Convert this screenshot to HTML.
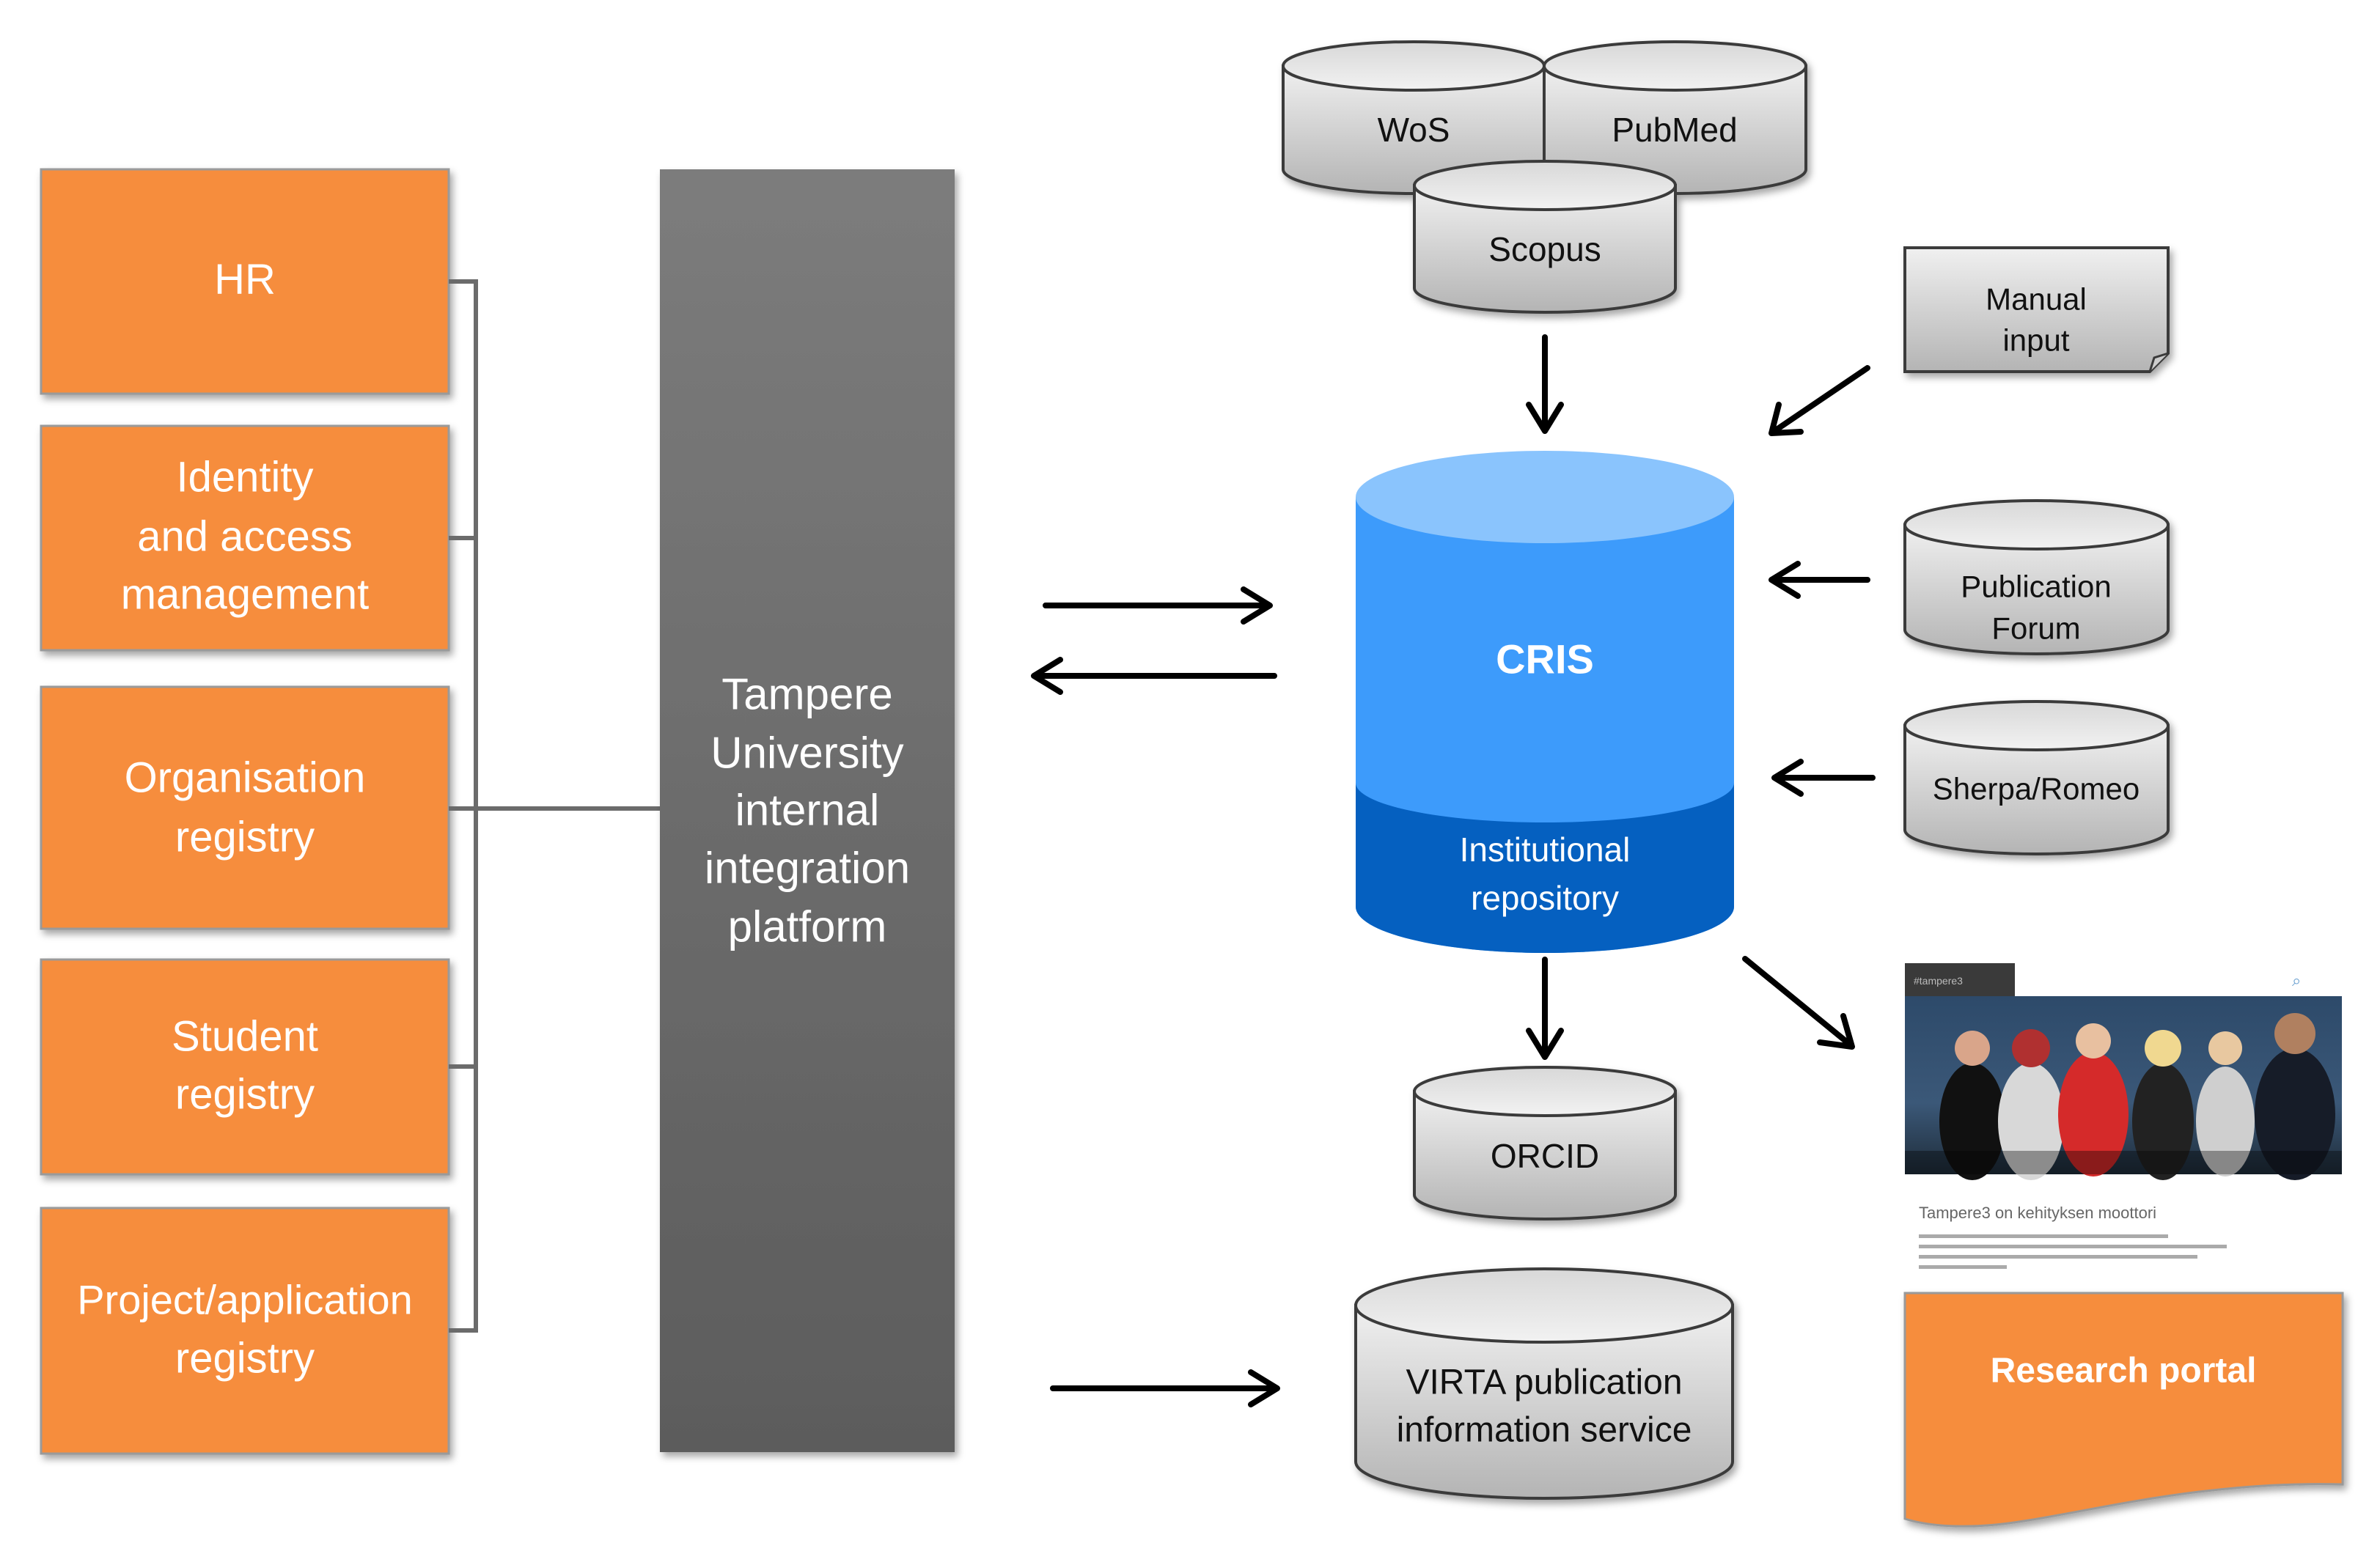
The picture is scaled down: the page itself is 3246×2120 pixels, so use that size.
<!DOCTYPE html>
<html><head><meta charset="utf-8"><style>
html,body{margin:0;padding:0;background:#fff;}
svg{display:block;}
text{font-family:"Liberation Sans",sans-serif;}
</style></head><body>
<svg width="3246" height="2120" viewBox="0 0 3246 2120" xmlns="http://www.w3.org/2000/svg">
<defs>
<linearGradient id="gb" x1="0" y1="0" x2="0" y2="1"><stop offset="0" stop-color="#f0f0f0"/><stop offset="1" stop-color="#b4b4b4"/></linearGradient>
<linearGradient id="gt" x1="0" y1="0" x2="0" y2="1"><stop offset="0" stop-color="#d8d8d8"/><stop offset="1" stop-color="#f2f2f2"/></linearGradient>
<linearGradient id="plat" x1="0" y1="0" x2="0" y2="1"><stop offset="0" stop-color="#7c7c7c"/><stop offset="1" stop-color="#5c5c5c"/></linearGradient>
<linearGradient id="photo" x1="0" y1="0" x2="0" y2="1"><stop offset="0" stop-color="#2d4a6a"/><stop offset="0.6" stop-color="#3b5878"/><stop offset="1" stop-color="#1f2d3a"/></linearGradient>
<filter id="sh" x="-10%" y="-10%" width="130%" height="130%"><feDropShadow dx="4" dy="6" stdDeviation="5" flood-color="#000" flood-opacity="0.35"/></filter>
</defs>

<g fill="#f68d3d" stroke="#9a9a9a" stroke-width="3" filter="url(#sh)">
<rect x="56" y="231" width="556" height="306"/>
<rect x="56" y="581" width="556" height="306"/>
<rect x="56" y="937" width="556" height="330"/>
<rect x="56" y="1309" width="556" height="293"/>
<rect x="56" y="1648" width="556" height="335"/>
</g>
<g fill="#fff" font-size="58" text-anchor="middle" dominant-baseline="central">
<text x="334" y="381">HR</text>
<text x="334" y="651">Identity</text>
<text x="334" y="732">and access</text>
<text x="334" y="811">management</text>
<text x="334" y="1061">Organisation</text>
<text x="334" y="1142">registry</text>
<text x="334" y="1414">Student</text>
<text x="334" y="1493">registry</text>
<text x="334" y="1773" font-size="56">Project/application</text>
<text x="334" y="1853">registry</text>
</g>

<g stroke="#6b6b6b" stroke-width="6" fill="none">
<path d="M612 384 H649 V1815 H612"/>
<path d="M612 734 H649 M612 1103 H900 M612 1455 H649"/>
</g>

<rect x="900" y="231" width="402" height="1750" fill="url(#plat)" filter="url(#sh)"/>
<g fill="#fff" font-size="60" text-anchor="middle" dominant-baseline="central">
<text x="1101" y="947">Tampere</text>
<text x="1101" y="1027">University</text>
<text x="1101" y="1105">internal</text>
<text x="1101" y="1184">integration</text>
<text x="1101" y="1264">platform</text>
</g>

<g stroke="#000" stroke-width="8" fill="none" stroke-linecap="round" stroke-linejoin="round">
<path d="M1426 826 H1728 M1696 804 L1732 826 L1696 848"/>
<path d="M1738 922 H1414 M1446 900 L1410 922 L1446 944"/>
<path d="M1436 1894 H1738 M1706 1872 L1742 1894 L1706 1916"/>
<path d="M2107 460 V584 M2085 552 L2107 588 L2129 552"/>
<path d="M2547 502 L2420 588 M2426 552 L2416 591 L2456 589"/>
<path d="M2547 791 H2420 M2452 769 L2416 791 L2452 813"/>
<path d="M2554 1061 H2424 M2456 1039 L2420 1061 L2456 1083"/>
<path d="M2107 1309 V1438 M2085 1406 L2107 1442 L2129 1406"/>
<path d="M2380 1308 L2522 1424 M2482 1422 L2526 1428 L2514 1386"/>
</g>

<g stroke="#3a3a3a" stroke-width="4" filter="url(#sh)">
<path d="M1750 90 V231 A178 33 0 0 0 2106 231 V90 Z" fill="url(#gb)"/>
<ellipse cx="1928" cy="90" rx="178" ry="33" fill="url(#gt)"/>
<path d="M2106 90 V231 A178.5 33 0 0 0 2463 231 V90 Z" fill="url(#gb)"/>
<ellipse cx="2284.5" cy="90" rx="178.5" ry="33" fill="url(#gt)"/>
<path d="M1929 253 V393 A178 33 0 0 0 2285 393 V253 Z" fill="url(#gb)"/>
<ellipse cx="2107" cy="253" rx="178" ry="33" fill="url(#gt)"/>
<path d="M2598 716 V859 A179.5 33 0 0 0 2957 859 V716 Z" fill="url(#gb)"/>
<ellipse cx="2777.5" cy="716" rx="179.5" ry="33" fill="url(#gt)"/>
<path d="M2598 990 V1132 A179.5 33 0 0 0 2957 1132 V990 Z" fill="url(#gb)"/>
<ellipse cx="2777.5" cy="990" rx="179.5" ry="33" fill="url(#gt)"/>
<path d="M1929 1489 V1630 A178 33 0 0 0 2285 1630 V1489 Z" fill="url(#gb)"/>
<ellipse cx="2107" cy="1489" rx="178" ry="33" fill="url(#gt)"/>
<path d="M1849 1781 V1994 A257 50 0 0 0 2363 1994 V1781 Z" fill="url(#gb)"/>
<ellipse cx="2106" cy="1781" rx="257" ry="50" fill="url(#gt)"/>
</g>
<path d="M2598 338 H2957 V482 L2932 507 H2598 Z" fill="url(#gb)" stroke="#3a3a3a" stroke-width="4" filter="url(#sh)"/>
<path d="M2932 507 L2938 488 L2957 482" fill="#ccc" stroke="#3a3a3a" stroke-width="3"/>

<g fill="#111" text-anchor="middle" dominant-baseline="central" font-size="46">
<text x="1928" y="177">WoS</text>
<text x="2284" y="177">PubMed</text>
<text x="2107" y="340">Scopus</text>
<text x="2777" y="408" font-size="42">Manual</text>
<text x="2777" y="464" font-size="42">input</text>
<text x="2777" y="800" font-size="42">Publication</text>
<text x="2777" y="857" font-size="42">Forum</text>
<text x="2777" y="1076" font-size="42">Sherpa/Romeo</text>
<text x="2107" y="1577">ORCID</text>
<text x="2106" y="1886" font-size="48">VIRTA publication</text>
<text x="2106" y="1951" font-size="48">information service</text>
</g>

<path d="M1849 678 V1237 A258 63 0 0 0 2365 1237 V678 Z" fill="#3d9bfb"/>
<path d="M1849 1068 A258 54 0 0 0 2365 1068 V1237 A258 63 0 0 1 1849 1237 Z" fill="#0560c0"/>
<ellipse cx="2107" cy="678" rx="258" ry="63" fill="#8ac4fd"/>
<g fill="#fff" text-anchor="middle" dominant-baseline="central">
<text x="2107" y="899" font-size="56" font-weight="bold">CRIS</text>
<text x="2107" y="1159" font-size="46">Institutional</text>
<text x="2107" y="1225" font-size="46">repository</text>
</g>

<rect x="2598" y="1314" width="150" height="45" fill="#3a3a3a"/>
<text x="2610" y="1343" font-size="14" fill="#bbb">#tampere3</text>
<text x="3126" y="1345" font-size="22" fill="#6aa0d0">⌕</text>
<rect x="2598" y="1359" width="596" height="243" fill="url(#photo)"/>
<g>
<ellipse cx="2690" cy="1530" rx="45" ry="80" fill="#111"/>
<circle cx="2690" cy="1430" r="24" fill="#d9a58a"/>
<ellipse cx="2770" cy="1530" rx="45" ry="80" fill="#d8d8d8"/>
<circle cx="2770" cy="1430" r="26" fill="#b03030"/>
<ellipse cx="2855" cy="1520" rx="48" ry="85" fill="#d52a2a"/>
<circle cx="2855" cy="1420" r="24" fill="#e8c0a0"/>
<ellipse cx="2950" cy="1530" rx="42" ry="80" fill="#222"/>
<circle cx="2950" cy="1430" r="25" fill="#f0d890"/>
<ellipse cx="3035" cy="1530" rx="40" ry="75" fill="#cfcfcf"/>
<circle cx="3035" cy="1430" r="23" fill="#e8c8a0"/>
<ellipse cx="3130" cy="1520" rx="55" ry="90" fill="#161c28"/>
<circle cx="3130" cy="1410" r="28" fill="#b08060"/>
<rect x="2598" y="1570" width="596" height="32" fill="#000" opacity="0.35"/>
</g>
<text x="2617" y="1662" font-size="22" fill="#666">Tampere3 on kehityksen moottori</text>
<g fill="#aaa">
<rect x="2617" y="1684" width="340" height="5"/>
<rect x="2617" y="1698" width="420" height="5"/>
<rect x="2617" y="1712" width="380" height="5"/>
<rect x="2617" y="1726" width="120" height="5"/>
</g>

<path d="M2598 1764 H3195 V2025 C3010 2020 2860 2060 2760 2075 C2700 2085 2640 2085 2598 2072 Z" fill="#f68d3d" stroke="#999" stroke-width="3" filter="url(#sh)"/>
<text x="2896" y="1870" font-size="48" font-weight="bold" fill="#fff" text-anchor="middle" dominant-baseline="central">Research portal</text>
</svg>
</body></html>
